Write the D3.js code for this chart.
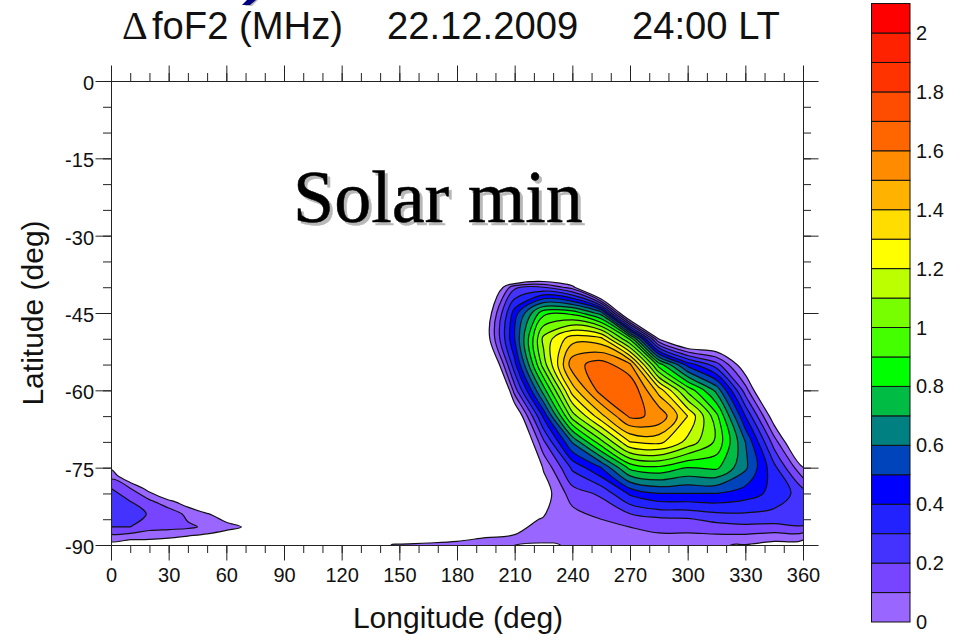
<!DOCTYPE html>
<html>
<head>
<meta charset="utf-8">
<script src="https://cdn.jsdelivr.net/npm/d3@7"></script>
<style>
  body { margin: 0; background: #fff; }
  text { font-family: "Liberation Sans", Arial, sans-serif; fill: #111; }
  .axis line, .axis path { stroke: #222; }
</style>
</head>
<body>
<div id="chart"></div>
<script>
// main blob: one row per latitude, one value per longitude
const lons = d3.range(120, 361, 15);
const lats = [-30, -35, -40, -45, -50, -55, -60, -65, -70, -75, -80, -85, -90];
const off = -1; // below the zero contour, left white
const dfof2 = [
  [off,off,off,off,off,off,off,off,off,off,off,off,off,off,off,off,off],
  [off,off,off,off,off,off,-1.1,-.7,-.8,off,off,off,off,off,off,off,off],
  [off,off,off,off,off,-.27,.18,.2,.05,-.55,-.8,off,off,off,off,off,off],
  [off,off,off,off,off,-.11,.45,.87,.87,.65,-.35,-.3,-.8,-.6,-.6,off,off],
  [off,off,off,off,off,-.08,.5,1.13,1.36,1.33,.88,-.01,-.28,-.25,-.4,-.8,off],
  [off,off,off,off,off,-.33,.37,1.05,1.56,1.65,1.52,.85,.46,.24,-.1,-.5,-.8],
  [off,off,off,off,off,-.7,.15,.75,1.35,1.65,1.7,1.36,.97,.67,.15,-.35,-.7],
  [off,off,off,off,off,-.7,-.15,.42,1.05,1.37,1.62,1.58,1.3,.93,.4,-.08,-.5],
  [off,off,off,off,off,-.6,-.3,.18,.61,.97,1.3,1.33,1.17,.98,.6,.15,-.25],
  [-.5,-.5,-.5,-.5,-.5,-.5,-.3,.01,.32,.5,.83,.88,.8,.82,.62,.33,.005],
  [-.5,-.4,-.3,-.3,-.2,-.2,-.2,-.06,.15,.22,.42,.5,.5,.5,.45,.37,.25],
  [-.1,-.06,-.06,-.06,-.06,-.05,-.03,.006,.05,.1,.14,.18,.19,.23,.25,.25,.29],
  [-.05,-.005,.002,.005,.01,.02,.02,.004,.01,.01,.01,.03,.02,.005,-.005,-.04,-.07]
];

// small patch at the left edge, needs a finer grid for its thin tip
const patchLons = d3.range(0, 81, 10);
const patchLats = [-71.5, -74, -76.5, -79, -81.5, -84, -86.5, -89, -91.5];
const patchValues = [
  [-.2,-.5,-.5,-.5,-.5,-.5,-.5,-.5,-.5],
  [-.07,-.3,-.5,-.5,-.5,-.5,-.5,-.5,-.5],
  [.06,-.12,-.3,-.5,-.5,-.5,-.5,-.5,-.5],
  [.2,.1,-.05,-.2,-.4,-.5,-.5,-.5,-.5],
  [.27,.2,.12,.02,-.06,-.2,-.4,-.5,-.5],
  [.28,.25,.19,.17,.07,.01,-.06,-.2,-.3],
  [.2,.2,.14,.13,.12,.08,.035,-.01,-.3],
  [.02,-.002,-.005,-.02,-.05,-.07,-.1,-.2,-.3],
  [-.1,-.1,-.1,-.1,-.1,-.1,-.1,-.1,-.1]
];

// thin closed zero contour sitting on the bottom axis
const sliverLon = [210, 216, 224, 230, 234];
const sliverLat = [-90, -89.7, -89.6, -89.6, -90];

// one colour per 0.1 MHz band, 0 upwards
const bandColors = ["#9966ff","#7744ff","#4433ff","#2222ff","#0000ff","#0044bb","#008080","#00bb44",
  "#00ff00","#44ff00","#77ff00","#bbff00","#ffff00","#ffdd00","#ffb300","#ff8c00","#ff6600",
  "#ff4d00","#ff3300","#ff2200","#ff0000"];
const levels = d3.range(0, 21).map(d => d / 10);
const colorTicks = [0, .2, .4, .6, .8, 1, 1.2, 1.4, 1.6, 1.8, 2];
const lonTicks = d3.range(0, 361, 30);
const lonMinor = d3.range(0, 361, 10);
const latTicks = d3.range(0, -91, -15);
const latMinor = d3.range(0, -91, -5);

const width = 966, height = 641;
const svg = d3.select("#chart").append("svg").attr("width", width).attr("height", height);

const x = d3.scaleLinear().domain([0, 360]).range([111, 803]);
const y = d3.scaleLinear().domain([0, -90]).range([81, 545]);
const c = d3.scaleLinear().domain([0, 2.1]).range([622, 3.55]);

svg.append("clipPath").attr("id", "plot").append("rect")
  .attr("x", x(0)).attr("y", y(0)).attr("width", x(360) - x(0)).attr("height", y(-90) - y(0));
const plot = svg.append("g").attr("clip-path", "url(#plot)");

// contours come back in grid units, where value i sits at i + 0.5
function drawGrid(rows, gridLons, gridLats) {
  const contours = d3.contours()
    .size([gridLons.length, gridLats.length])
    .thresholds(levels)(rows.flat());
  const gx = v => x(gridLons[0] + (v - 0.5) * (gridLons[1] - gridLons[0]));
  const gy = v => y(gridLats[0] + (v - 0.5) * (gridLats[1] - gridLats[0]));
  const ringPath = d3.line().x(p => gx(p[0])).y(p => gy(p[1])).curve(d3.curveCatmullRomClosed.alpha(0.5));
  plot.append("g").selectAll("path")
    .data(contours)
    .enter().append("path")
    .attr("d", d => d.coordinates.map(poly => poly.map(r => ringPath(r.slice(0, -1))).join("")).join(""))
    .attr("fill", (d, i) => bandColors[i])
    .attr("fill-rule", "evenodd")
    .attr("stroke", "#111")
    .attr("stroke-width", 1.2);
}
drawGrid(dfof2, lons, lats);
drawGrid(patchValues, patchLons, patchLats);

plot.append("path")
  .attr("d", d3.line().x(d => x(d)).y((d, i) => y(sliverLat[i])).curve(d3.curveMonotoneX)(sliverLon))
  .attr("fill", "#fff").attr("stroke", "#111");

// frame with ticks pointing out on all four sides
function axisPair(make, scale, major, minor, translate, showLabels) {
  svg.append("g").attr("class", "axis").attr("transform", translate)
    .call(make(scale).tickValues(minor).tickSize(8).tickFormat(""));
  const g = svg.append("g").attr("class", "axis").attr("transform", translate)
    .call(make(scale).tickValues(major).tickSize(15.5).tickSizeOuter(0).tickFormat(d => String(d)));
  g.selectAll("text").style("font-size", "20px");
  if (!showLabels) g.selectAll("text").remove();
  return g;
}
axisPair(d3.axisBottom, x, lonTicks, lonMinor, `translate(0,${y(-90)})`, true)
  .selectAll("text").attr("y", 37).attr("dy", 0);
axisPair(d3.axisTop, x, lonTicks, lonMinor, `translate(0,${y(0)})`, false);
axisPair(d3.axisLeft, y, latTicks, latMinor, `translate(${x(0)},0)`, true)
  .selectAll("text").attr("x", -17).attr("dy", "0.42em");
axisPair(d3.axisRight, y, latTicks, latMinor, `translate(${x(360)},0)`, false);

svg.append("text").attr("x", 458).attr("y", 628).attr("text-anchor", "middle")
  .style("font-size", "30px").text("Longitude (deg)");
svg.append("text").attr("transform", "translate(43,313) rotate(-90)").attr("text-anchor", "middle")
  .style("font-size", "30px").text("Latitude (deg)");

// title, the delta is thin like the symbol font of the original
svg.append("text").attr("x", 122).attr("y", 39).style("font-family", "Liberation Serif")
  .style("font-size", "40px").text("\u0394");
svg.append("text").attr("x", 152).attr("y", 39).style("font-size", "38.2px").text("foF2 (MHz)");
svg.append("text").attr("x", 387).attr("y", 39).style("font-size", "38.2px").text("22.12.2009");
svg.append("text").attr("x", 632).attr("y", 39).style("font-size", "38.2px").text("24:00 LT");

// cropped bit of a slide heading above the title
svg.append("path").attr("d", "M249 0L258 0L252 6L245 6Z").attr("fill", "#bbb");
svg.append("path").attr("d", "M247 0L256 0L250 5L242 5Z").attr("fill", "#00007f");

// annotation with its drop shadow
svg.append("text").attr("x", 293).attr("y", 222)
  .style("font-family", "Liberation Serif").style("font-size", "74px")
  .style("fill", "#000").style("stroke", "#000").style("stroke-width", 0.5)
  .style("filter", "drop-shadow(3px 3px 0 #b8b8b8)")
  .text("Solar min");

// colour bar
svg.append("g").selectAll("rect")
  .data(bandColors)
  .enter().append("rect")
  .attr("x", 871.5).attr("width", 38.5)
  .attr("y", (d, i) => c((i + 1) / 10))
  .attr("height", (d, i) => c(i / 10) - c((i + 1) / 10))
  .attr("fill", d => d)
  .attr("stroke", "#111").attr("stroke-width", 1);
svg.append("g").selectAll("text")
  .data(colorTicks)
  .enter().append("text")
  .attr("x", 916).attr("y", d => c(d) + 7)
  .style("font-size", "20px")
  .text(d => d);
</script>
</body>
</html>
